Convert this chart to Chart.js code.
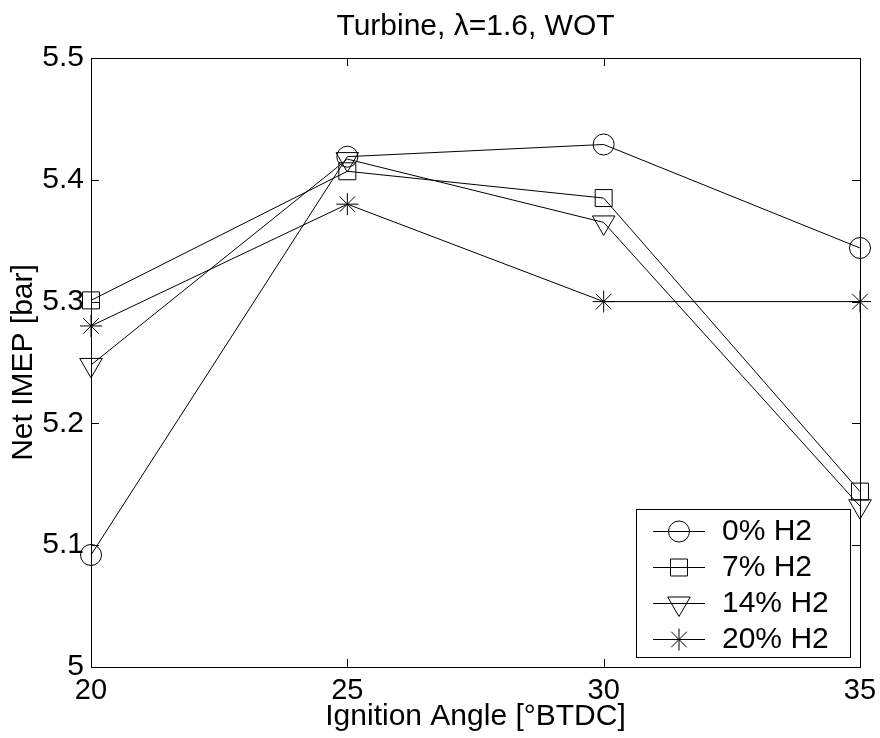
<!DOCTYPE html>
<html>
<head>
<meta charset="utf-8">
<script src="https://cdn.jsdelivr.net/npm/chart.js@4.4.1/dist/chart.umd.min.js"></script>
<style>
  html, body { margin: 0; padding: 0; background: #fff; }
  #wrap { width: 880px; height: 738px; }
</style>
</head>
<body>
<div id="wrap"><canvas id="imepChart"></canvas></div>
<script>
// Net IMEP vs ignition angle, turbine, lambda 1.6, WOT
const ignitionAngles = [20, 25, 30, 35];
const imepH2_0 = [5.092, 5.419, 5.429, 5.344];
const imepH2_7 = [5.301, 5.407, 5.385, 5.144];
const imepH2_14 = [5.248, 5.417, 5.365, 5.132];
const imepH2_20 = [5.280, 5.380, 5.300, 5.300];
const seriesLabels = ["0% H2", "7% H2", "14% H2", "20% H2"];
const xTickLabels = ["20", "25", "30", "35"];
const yTickValues = [5, 5.1, 5.2, 5.3, 5.4, 5.5];
const yTickLabels = ["5", "5.1", "5.2", "5.3", "5.4", "5.5"];

const FONT = "'Liberation Sans', Arial, sans-serif";
Chart.defaults.color = "#000";
Chart.defaults.font.family = FONT;

const markers = [
  { pointStyle: "circle", radius: 10.5, rotation: 0 },
  { pointStyle: "rect", radius: 12, rotation: 0 },
  { pointStyle: "triangle", radius: 13, rotation: 180 },
  { pointStyle: "star", radius: 11, rotation: 0 },
];

function toPoints(values) {
  return ignitionAngles.map((x, i) => ({ x: x, y: values[i] }));
}

const datasets = [imepH2_0, imepH2_7, imepH2_14, imepH2_20].map((vals, i) => ({
  label: seriesLabels[i],
  data: toPoints(vals),
  borderColor: "#000",
  borderWidth: 1,
  backgroundColor: "rgba(0,0,0,0)",
  pointStyle: markers[i].pointStyle,
  pointRadius: markers[i].radius,
  pointRotation: markers[i].rotation,
  pointBorderWidth: 1,
  pointBorderColor: "#000",
  pointBackgroundColor: "rgba(0,0,0,0)",
  tension: 0,
  clip: false,
}));

// box around the axes with inward ticks on all four sides
const axesBox = {
  id: "axesBox",
  afterDatasetsDraw(chart) {
    const { ctx, chartArea: a, scales } = chart;
    const len = 8;
    ctx.save();
    ctx.strokeStyle = "#000";
    ctx.lineWidth = 1;
    ctx.beginPath();
    scales.x.ticks.forEach((t) => {
      const px = Math.round(scales.x.getPixelForValue(t.value)) + 0.5;
      ctx.moveTo(px, a.bottom);
      ctx.lineTo(px, a.bottom - len);
      ctx.moveTo(px, a.top);
      ctx.lineTo(px, a.top + len);
    });
    scales.y.ticks.forEach((t) => {
      const py = Math.round(scales.y.getPixelForValue(t.value)) + 0.5;
      ctx.moveTo(a.left, py);
      ctx.lineTo(a.left + len, py);
      ctx.moveTo(a.right, py);
      ctx.lineTo(a.right - len, py);
    });
    ctx.stroke();
    ctx.strokeRect(Math.round(a.left) + 0.5, Math.round(a.top) + 0.5,
      Math.round(a.right - a.left), Math.round(a.bottom - a.top));
    ctx.restore();
  },
};

// title over the axes and the boxed legend in the lower right corner
const annotations = {
  id: "annotations",
  afterDraw(chart) {
    const { ctx, chartArea: a } = chart;
    ctx.save();
    ctx.fillStyle = "#000";
    ctx.font = "30px " + FONT;
    ctx.textAlign = "center";
    ctx.textBaseline = "alphabetic";
    ctx.fillText("Turbine, \u03bb=1.6, WOT", (a.left + a.right) / 2, 35);

    const box = { x: 636, y: 509, w: 214, h: 148 };
    ctx.fillStyle = "#fff";
    ctx.fillRect(box.x, box.y, box.w, box.h);
    ctx.strokeStyle = "#000";
    ctx.lineWidth = 1;
    ctx.strokeRect(box.x + 0.5, box.y + 0.5, box.w, box.h);

    const rowY = [531, 567, 603, 639];
    ctx.font = "30px " + FONT;
    ctx.textAlign = "left";
    ctx.textBaseline = "middle";
    chart.data.datasets.forEach((ds, i) => {
      const y = rowY[i] + 0.5;
      ctx.beginPath();
      ctx.moveTo(653, y);
      ctx.lineTo(705, y);
      ctx.stroke();
      ctx.fillStyle = "rgba(0,0,0,0)";
      Chart.helpers.drawPoint(ctx, {
        pointStyle: ds.pointStyle,
        rotation: ds.pointRotation,
        radius: ds.pointRadius,
        borderWidth: 1,
      }, 679, y);
      ctx.fillStyle = "#000";
      ctx.fillText(ds.label, 722, rowY[i] + 1);
    });
    ctx.restore();
  },
};

new Chart(document.getElementById("imepChart"), {
  type: "line",
  data: { datasets: datasets },
  options: {
    responsive: true,
    maintainAspectRatio: false,
    animation: false,
    layout: { padding: { top: 58, right: 20, left: 0, bottom: 0 } },
    plugins: {
      legend: { display: false },
      title: { display: false },
      tooltip: { enabled: false },
    },
    scales: {
      x: {
        type: "linear",
        min: 20,
        max: 35,
        grid: { display: false, drawTicks: false },
        border: { display: false },
        afterBuildTicks: (s) => { s.ticks = ignitionAngles.map((v) => ({ value: v })); },
        afterFit: (s) => { s.height = 71; s.paddingLeft = 0; s.paddingRight = 0; },
        ticks: {
          padding: 7,
          maxRotation: 0,
          font: { size: 29 },
          callback: (v) => xTickLabels[ignitionAngles.indexOf(v)],
        },
        title: {
          display: true,
          text: "Ignition Angle [\u00b0BTDC]",
          font: { size: 30, lineHeight: 1.2 },
          padding: { top: 0, bottom: 3 },
        },
      },
      y: {
        type: "linear",
        min: 5,
        max: 5.5,
        grid: { display: false, drawTicks: false },
        border: { display: false },
        afterBuildTicks: (s) => { s.ticks = yTickValues.map((v) => ({ value: v })); },
        afterFit: (s) => { s.width = 91; s.paddingTop = 0; s.paddingBottom = 0; },
        ticks: {
          padding: 7,
          font: { size: 30 },
          callback: (v) => yTickLabels[yTickValues.indexOf(v)],
        },
        title: {
          display: true,
          text: "Net IMEP [bar]",
          font: { size: 30, lineHeight: 1.2 },
          padding: { top: 6, bottom: 0 },
        },
      },
    },
  },
  plugins: [axesBox, annotations],
});
</script>
</body>
</html>
